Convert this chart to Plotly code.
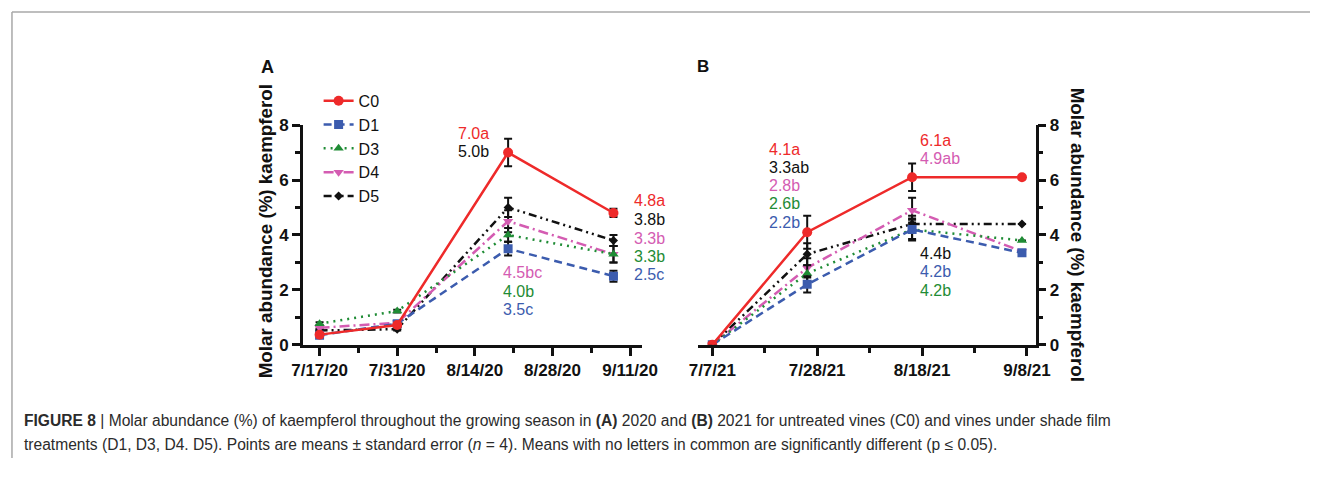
import plotly.graph_objects as go

# the page body keeps an 8px margin around the figure
PAGE_W, PAGE_H, PAD = 1342, 484, 8
W, H = PAGE_W - 2 * PAD, PAGE_H - 2 * PAD

# ---- data -------------------------------------------------------------
series = ["C0", "D1", "D3", "D4", "D5"]

dates_2020 = ["2020-07-17", "2020-07-31", "2020-08-20", "2020-09-08"]
vals_2020 = {
    "C0": [0.37, 0.72, 7.0, 4.8],
    "D1": [0.35, 0.77, 3.5, 2.5],
    "D3": [0.77, 1.23, 4.0, 3.3],
    "D4": [0.62, 0.80, 4.5, 3.3],
    "D5": [0.52, 0.57, 5.0, 3.8],
}
err_2020 = {
    "C0": [0.05, 0.05, 0.50, 0.15],
    "D1": [0.05, 0.05, 0.25, 0.20],
    "D3": [0.05, 0.05, 0.25, 0.30],
    "D4": [0.05, 0.05, 0.40, 0.30],
    "D5": [0.05, 0.05, 0.35, 0.20],
}

dates_2021 = ["2021-07-07", "2021-07-26", "2021-08-16", "2021-09-07"]
vals_2021 = {
    "C0": [0.0, 4.1, 6.1, 6.1],
    "D1": [0.0, 2.2, 4.2, 3.35],
    "D3": [0.0, 2.6, 4.2, 3.8],
    "D4": [0.0, 2.8, 4.9, 3.4],
    "D5": [0.0, 3.3, 4.4, 4.4],
}
err_2021 = {
    "C0": [0.0, 0.60, 0.50, 0.0],
    "D1": [0.0, 0.30, 0.40, 0.0],
    "D3": [0.0, 0.30, 0.35, 0.0],
    "D4": [0.0, 0.35, 0.45, 0.0],
    "D5": [0.0, 0.40, 0.30, 0.0],
}

ticks_2020 = ["2020-07-17", "2020-07-31", "2020-08-14", "2020-08-28", "2020-09-11"]
ticklabels_2020 = ["7/17/20", "7/31/20", "8/14/20", "8/28/20", "9/11/20"]
ticks_2021 = ["2021-07-07", "2021-07-28", "2021-08-18", "2021-09-08"]
ticklabels_2021 = ["7/7/21", "7/28/21", "8/18/21", "9/8/21"]

# ---- styles -----------------------------------------------------------
colors = {"C0": "#ee2a2a", "D1": "#3c5cae", "D3": "#1f8c35", "D4": "#d45cb2", "D5": "#111111"}
dashes = {
    "C0": "solid",
    "D1": "8px,5px",
    "D3": "2px,5px",
    "D4": "10px,4px,2px,4px",
    "D5": "8px,4px,2px,4px,2px,4px",
}
symbols = {"C0": "circle", "D1": "square", "D3": "triangle-up", "D4": "triangle-down", "D5": "diamond"}
msize = {"C0": 10, "D1": 9, "D3": 9, "D4": 9, "D5": 7}

FONT = "Liberation Sans, Arial, sans-serif"


def px(x):
    """Page pixel column -> paper fraction."""
    return (x - PAD) / W


def py(y):
    """Page pixel row -> paper fraction."""
    return 1 - (y - PAD) / H


fig = go.Figure()

for name in reversed(series):
    for xs, vals, errs, xa, ya, leg in [
        (dates_2020, vals_2020, err_2020, "x", "y", True),
        (dates_2021, vals_2021, err_2021, "x2", "y2", False),
    ]:
        fig.add_trace(go.Scatter(
            x=xs, y=vals[name], name=name, xaxis=xa, yaxis=ya,
            mode="lines+markers", showlegend=leg, legendgroup=name,
            line=dict(color=colors[name], width=2.5, dash=dashes[name]),
            marker=dict(symbol=symbols[name], size=msize[name], color=colors[name]),
            error_y=dict(type="data", array=errs[name], visible=True,
                         color="#111111", thickness=2, width=4),
        ))

axis_common = dict(
    showline=True, linecolor="#111111", linewidth=2.5, showgrid=False, zeroline=False,
    ticks="outside", ticklen=8, tickwidth=2.5, tickcolor="#111111",
    tickfont=dict(family=FONT, size=17, color="#111111", weight="bold"),
)

LEG_TOP = 86
fig.update_layout(
    width=W, height=H, margin=dict(l=0, r=0, t=0, b=0),
    paper_bgcolor="white", plot_bgcolor="white",
    font=dict(family=FONT, color="#111111"),
    showlegend=True,
    legend=dict(
        x=px(322), y=py(LEG_TOP), xanchor="left", yanchor="top",
        traceorder="reversed", font=dict(family=FONT, size=16, color="#111111"),
        bgcolor="rgba(0,0,0,0)", itemwidth=30, tracegroupgap=0,
    ),
    xaxis=dict(
        axis_common, domain=[px(306), px(652)], anchor="y", type="date",
        range=["2020-07-14", "2020-09-13 03:00"],
        tickmode="array", tickvals=ticks_2020, ticktext=ticklabels_2020,
        minor=dict(ticks="outside", ticklen=5, tickwidth=2.5, tickcolor="#111111",
                   dtick=7 * 86400000, tick0="2020-07-17"),
    ),
    yaxis=dict(
        axis_common, domain=[py(358), py(129)], anchor="x", range=[0, 8],
        tickvals=[0, 2, 4, 6, 8],
        minor=dict(ticks="outside", ticklen=5, tickwidth=2.5, tickcolor="#111111", dtick=1),
    ),
    xaxis2=dict(
        axis_common, domain=[px(709), px(1054)], anchor="y2", type="date",
        range=["2021-07-04 02:00", "2021-09-09 18:00"],
        tickmode="array", tickvals=ticks_2021, ticktext=ticklabels_2021,
        minor=dict(ticks="outside", ticklen=5, tickwidth=2.5, tickcolor="#111111",
                   dtick=10.5 * 86400000, tick0="2021-07-07"),
    ),
    yaxis2=dict(
        axis_common, domain=[py(358), py(129)], anchor="x2", side="right", range=[0, 8],
        tickvals=[0, 2, 4, 6, 8],
        minor=dict(ticks="outside", ticklen=5, tickwidth=2.5, tickcolor="#111111", dtick=1),
    ),
)

ann = []


def label(text, x, y, color, size=16, bold=False, xanchor="left", angle=0):
    ann.append(dict(
        text=text, x=px(x), y=py(y), xref="paper", yref="paper",
        xanchor=xanchor, yanchor="middle", showarrow=False, textangle=angle,
        font=dict(family=FONT, size=size, color=color, weight="bold" if bold else "normal"),
    ))


# panel letters and axis titles
label("A", 261, 68, "#111111", size=18, bold=True)
label("B", 706, 68, "#111111", size=17, bold=True)
label("Molar abundance (%) kaempferol", 268, 240, "#111111", size=18.8, bold=True,
      xanchor="center", angle=-90)
label("Molar abundance (%) kaempferol", 1097, 243, "#111111", size=18.8, bold=True,
      xanchor="center", angle=90)

# mean separation letters, 2020
for text, name, y in [("7.0a", "C0", 138), ("5.0b", "D5", 157)]:
    label(text, 462, y, colors[name])
for text, name, y in [("4.8a", "C0", 208), ("3.8b", "D5", 227), ("3.3b", "D4", 247),
                      ("3.3b", "D3", 266), ("2.5c", "D1", 285)]:
    label(text, 642, y, colors[name])
for text, name, y in [("4.5bc", "D4", 283), ("4.0b", "D3", 302), ("3.5c", "D1", 321)]:
    label(text, 508, y, colors[name])

# mean separation letters, 2021
for text, name, y in [("4.1a", "C0", 154), ("3.3ab", "D5", 173), ("2.8b", "D4", 192),
                      ("2.6b", "D3", 211), ("2.2b", "D1", 231)]:
    label(text, 780, y, colors[name])
for text, name, y in [("6.1a", "C0", 145), ("4.9ab", "D4", 164)]:
    label(text, 934, y, colors[name])
for text, name, y in [("4.4b", "D5", 263), ("4.2b", "D1", 282), ("4.2b", "D3", 301)]:
    label(text, 934, y, colors[name])

# caption
label("<b>FIGURE 8</b> | Molar abundance (%) of kaempferol throughout the growing season in "
      "<b>(A)</b> 2020 and <b>(B)</b> 2021 for untreated vines (C0) and vines under shade film",
      19, 437, "#2b2b2b", size=15.6)
label("treatments (D1, D3, D4. D5). Points are means ± standard error (<i>n</i> = 4). "
      "Means with no letters in common are significantly different (p ≤ 0.05).",
      19, 462, "#2b2b2b", size=15.6)

fig.update_layout(annotations=ann)

# frame lines along the top and left edges
fig.add_shape(type="line", xref="paper", yref="paper", x0=px(9), x1=1, y0=py(11), y1=py(11),
              line=dict(color="#a8a8a8", width=1.5))
fig.add_shape(type="line", xref="paper", yref="paper", x0=px(9), x1=px(9), y0=py(11), y1=0,
              line=dict(color="#a8a8a8", width=1.5))

fig.write_html("out.html")
